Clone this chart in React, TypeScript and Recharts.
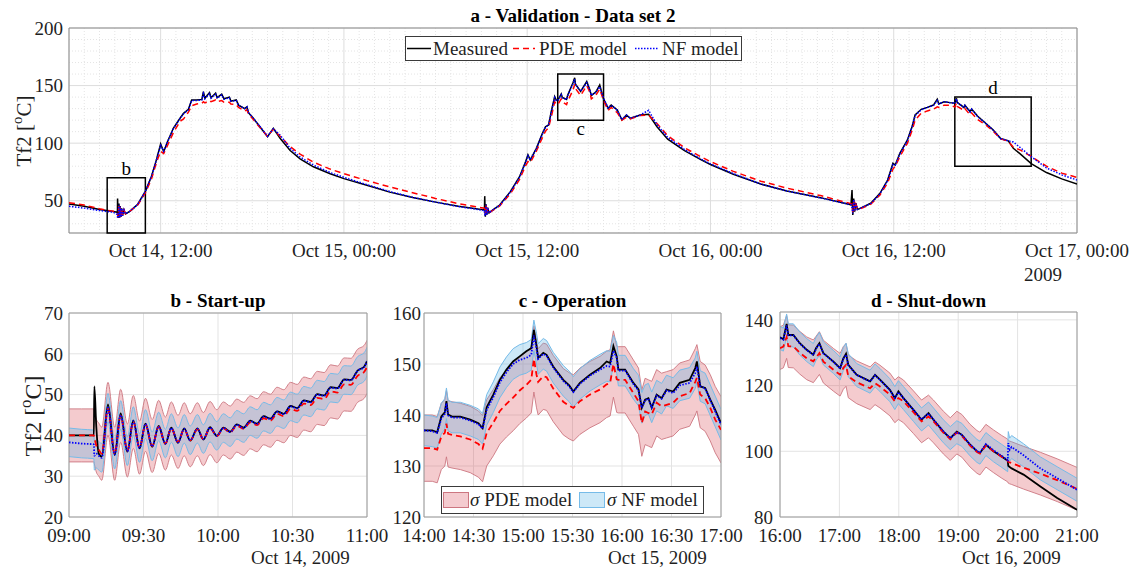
import React from "react";
import { Area, CartesianGrid, ComposedChart, Line, ReferenceArea, XAxis, YAxis } from "recharts";

const serif = "'Times New Roman', 'Liberation Serif', Tinos, 'DejaVu Serif', serif";

// ---- panel a: hours since Oct 14 00:00 ----
const topHours = [6, 7, 8, 8.9, 9.17, 9.18, 9.22, 9.27, 9.31, 9.35, 9.4, 9.45, 9.5, 9.6, 9.7, 10, 10.5, 11, 11.4, 11.75, 12, 12.2, 12.45, 12.83, 13.27, 13.5, 13.82, 14.03, 14.36, 14.7, 14.8, 14.9, 15.2, 15.3, 15.6, 15.7, 16, 16.15, 16.5, 16.6, 16.95, 17.1, 17.5, 17.65, 17.75, 18.07, 18.5, 19, 19.38, 19.82, 20.48, 21.13, 22, 23.1, 24, 25.5, 27, 28.5, 30, 31.5, 33.2, 33.22, 33.26, 33.31, 33.36, 33.42, 33.5, 33.8, 34.2, 34.9, 35.5, 35.9, 36.05, 36.2, 36.6, 37, 37.2, 37.4, 37.6, 37.8, 37.9, 38, 38.23, 38.3, 38.58, 38.65, 39, 39.11, 39.16, 39.5, 39.9, 40.1, 40.2, 40.5, 40.75, 41, 41.3, 41.5, 41.9, 42.2, 42.5, 42.75, 43.4, 43.95, 44.5, 45.2, 46.3, 47.4, 48, 49.5, 51.3, 53, 55.2, 57.2, 57.27, 57.32, 57.38, 57.44, 57.52, 57.62, 57.8, 58.5, 59.1, 59.6, 59.95, 60.1, 60.4, 60.9, 61.2, 61.4, 61.8, 62.2, 62.6, 62.85, 62.95, 63.3, 63.7, 64, 64.11, 64.15, 64.6, 64.66, 65, 65.1, 65.5, 66, 66.5, 67, 67.5, 67.83, 68.3, 69, 70, 71, 72];
const topMeasured = [47.2, 45.3, 42.5, 40.6, 40, 52, 35, 47.5, 35.2, 45.4, 36, 43.5, 37, 42, 38.5, 41, 47, 58.2, 71, 86.8, 99.3, 92.6, 101.3, 112.9, 121.6, 125.9, 129.4, 137.5, 137.5, 138, 144.7, 139, 144, 139.5, 143.5, 139.5, 142.5, 138.5, 140, 136.5, 137.5, 133, 130, 131.5, 126.5, 121.6, 114.3, 105.6, 112.9, 104.2, 93.6, 86.4, 79.5, 73.5, 69.2, 63.5, 57.5, 52.8, 48.8, 45.2, 42, 54, 36.2, 47, 38, 44, 39.5, 42.5, 46.3, 57.9, 70.9, 84, 89.9, 85.4, 95.5, 108.5, 114.3, 115.8, 128.8, 140.4, 137.5, 137, 142.7, 139.7, 138, 141.7, 152.5, 156.7, 151.2, 145, 153.5, 146.3, 141.4, 144.5, 150.5, 138.4, 130.2, 133.1, 128.8, 120.1, 124.5, 121.6, 124.5, 125, 114.3, 103.5, 93.5, 85.5, 81.5, 73, 64.5, 58.5, 52.7, 46.5, 59.3, 37.6, 52, 40.5, 48, 42.5, 43.4, 47.8, 56.4, 68, 82.5, 81, 91.2, 102.8, 114.3, 124.5, 129.4, 131.1, 133.1, 138.1, 134, 136, 135.2, 134.7, 139, 135.4, 131, 132.9, 127.3, 129.7, 123.3, 117.5, 111.6, 104, 102, 95.5, 90.5, 82.2, 74.5, 69, 64.5];
const topPde = [48.3, 46.3, 43, 40.8, 40, 39, 35.5, 46.5, 35.5, 44.8, 36.3, 43, 37, 42, 38.5, 41, 46.3, 56.8, 69, 84, 93, 91, 98, 109, 119, 121, 127, 132.5, 134, 134.5, 136, 135, 137, 136, 137.5, 136, 137, 135.5, 135.5, 134, 133.5, 131, 128, 129, 125.5, 120.5, 113.5, 106, 112, 106, 97, 90.5, 83.5, 77.5, 73.5, 67.5, 62, 57, 52, 47.5, 43.5, 43, 38, 46, 38.5, 43.5, 39.5, 42, 45.5, 56, 68.5, 80.5, 84, 83, 93, 105, 110.5, 113.5, 124, 136, 134, 133.5, 138.4, 136, 133.5, 136.5, 146, 151, 147.5, 141.4, 150, 144.3, 138.4, 141.7, 147, 137.1, 128.5, 131, 126.5, 120, 122.5, 121, 124, 124.5, 117, 106.5, 96, 88, 84, 75.5, 67, 61, 54.5, 47.5, 47, 40, 50, 41.5, 47, 43, 43, 47, 55, 65.5, 77.5, 80, 88.3, 100, 111, 120, 126, 128, 129.5, 131.5, 131, 133, 133, 131.4, 135, 132, 128.5, 130, 124.5, 126.3, 120.5, 116, 110.6, 103.7, 101.7, 96.5, 94, 88.5, 80, 74, 70.3];
const topNf = [45.2, 43.6, 41.5, 40, 38, 35, 35, 46.5, 35.2, 45, 36, 43.5, 37, 42, 38.5, 41, 46.8, 58, 71, 86.5, 98, 93, 101, 112.5, 121.3, 125.5, 129, 137, 137, 137.5, 143, 138.5, 143, 139, 142.5, 139, 142, 138, 139.5, 136.5, 137, 133, 130, 131.5, 126.5, 121.6, 114.5, 106, 112.5, 107, 95.5, 88, 81, 74.5, 70.3, 64, 58, 53, 48.8, 45, 41.5, 38, 37, 46.5, 38, 44, 39.5, 42.5, 46, 57.5, 70.5, 83.5, 89, 85.5, 95, 108, 114, 115.5, 128, 139.5, 137, 137, 142, 139.5, 137.8, 141, 151.5, 155.5, 151, 145, 152.5, 146, 141.5, 144.3, 149, 139, 130.5, 133, 128.5, 120.5, 124.5, 121.6, 124.5, 128.5, 116, 105, 94.5, 86, 82, 73.5, 64.5, 58.5, 52.5, 46.5, 44, 39, 51, 41, 47.5, 42.5, 43.4, 47.6, 56, 67.5, 81.5, 81, 90.5, 102.5, 114, 124, 129, 131, 132.8, 137, 134, 136, 135, 134.5, 138.5, 135.4, 131, 132.7, 127, 129.5, 123, 117.5, 111.5, 104, 102, 101, 96, 88.3, 78.5, 72.5, 68];
const topXTicks = [12, 24, 36, 48, 60, 72];
const topXLabels = ["Oct 14, 12:00", "Oct 15, 00:00", "Oct 15, 12:00", "Oct 16, 00:00", "Oct 16, 12:00", "Oct 17, 00:00"];
const topYTicks = [50, 100, 150, 200];

// ---- panel b: minutes after 09:00, Oct 14 ----
const bMinutes = [0, 5, 10, 10.2, 11, 12, 13.2, 15.7, 18.4, 20.8, 23.5, 25.9, 28.4, 30.8, 33.5, 36.1, 38.8, 41.2, 43.9, 46.4, 48.8, 51.7, 54.1, 56.8, 59.5, 62.2, 64.9, 67.6, 70.3, 73, 75.7, 78.4, 81.1, 83.8, 86.5, 89.2, 91.9, 94.6, 97.3, 100, 102.7, 105.4, 108.1, 110.8, 113.5, 116.2, 118.9, 120];
const bMeasured = [40, 40, 40, 52, 42, 35.5, 34.8, 47.6, 35.2, 45.4, 36, 43.7, 36.8, 42.9, 37.2, 42.3, 37.9, 41.9, 38.2, 41.7, 38.7, 41.7, 39, 42, 39.9, 41.9, 40.9, 42.7, 41.9, 43.6, 42.9, 44.7, 44.1, 45.9, 45.3, 47.2, 46.7, 48.6, 48.2, 50.1, 49.8, 51.8, 51.6, 53.7, 53.6, 55.9, 56.9, 58.2];
const bPde = [40, 40, 40, 39.5, 37.5, 36.5, 35.5, 46.5, 35.5, 44.8, 36.3, 43.3, 37, 42.6, 37.4, 42.1, 38, 41.7, 38.4, 41.5, 38.8, 41.5, 39.1, 41.8, 39.8, 41.7, 40.7, 42.4, 41.6, 43.2, 42.5, 44.2, 43.6, 45.3, 44.7, 46.5, 46, 47.8, 47.4, 49.2, 48.9, 50.8, 50.5, 52.5, 52.4, 54.6, 55.6, 56.8];
const bNf = [38.3, 38, 37.8, 35, 35.5, 35, 34.5, 46.8, 35.3, 45, 36.1, 43.5, 36.9, 42.8, 37.3, 42.2, 38, 41.8, 38.3, 41.6, 38.8, 41.6, 39.1, 41.9, 39.9, 41.8, 40.8, 42.6, 41.8, 43.5, 42.8, 44.6, 44, 45.8, 45.2, 47.1, 46.6, 48.5, 48.1, 50, 49.7, 51.7, 51.5, 53.6, 53.5, 55.8, 56.8, 58.1];
const bSigma = { pde: 6.5, nf: 3.5 };
const bXTicks = [0, 30, 60, 90, 120];
const bXLabels = ["09:00", "09:30", "10:00", "10:30", "11:00"];
const bYTicks = [20, 30, 40, 50, 60, 70];

// ---- panel c: minutes after 14:00, Oct 15 ----
const cMinutes = [0, 5, 8, 10.5, 12.6, 13.6, 14.6, 17, 22, 28, 33, 35.5, 38, 42, 46, 50, 54, 58, 62, 65, 66.6, 68.2, 69.2, 72.3, 74.3, 78.3, 84.4, 88, 90.5, 94.5, 100.6, 106.7, 110.7, 112.8, 114.8, 116.8, 117.8, 121.9, 126.9, 130, 132, 134, 136, 138, 141, 144, 147, 151, 155, 161, 164.4, 165.4, 167.4, 170.4, 173.5, 176.5, 180];
const cMeasured = [137, 137, 136.6, 139.7, 140.5, 142.7, 140.1, 139.7, 139.7, 139.1, 138.4, 137.4, 141.5, 144, 146.9, 148.9, 150.5, 151.5, 152.5, 153.1, 156.7, 153.5, 151.2, 152.2, 151.8, 149.5, 146.9, 145.8, 144.6, 146.3, 147.9, 149.2, 150.5, 150.2, 153.5, 151.5, 148.9, 148.9, 146.3, 145, 141.4, 143, 143.3, 141.4, 144, 143.3, 145, 144.6, 146.3, 146.9, 149.2, 150.5, 145.6, 145.3, 143, 141, 138.4];
const cPde = [133.5, 133.5, 133.2, 135.8, 136.5, 138.3, 136.3, 136.1, 135.8, 135.2, 134.3, 133.4, 136.5, 138.5, 140.8, 142.2, 143.4, 144.8, 145.9, 146.9, 151, 147.9, 146.5, 147.6, 147.4, 145.2, 142.6, 141.8, 141.4, 142.7, 144, 145, 146, 146.3, 150, 147, 146.9, 146.9, 144.3, 142.7, 138.4, 140.7, 140.4, 140.1, 142.4, 141.7, 142, 142.4, 143.7, 144.3, 146.5, 147.3, 144, 143.3, 141.4, 139.1, 137.1];
const cNf = [137, 136.8, 136.5, 139.3, 140.2, 142.3, 139.9, 139.5, 139.5, 138.9, 138.2, 137.3, 141, 143.5, 146.4, 148.4, 150, 150.8, 151.2, 151.8, 155.6, 153, 151, 152, 151.6, 149.3, 146.7, 145.6, 144.5, 146.1, 147.7, 148.9, 149.6, 149.5, 152.6, 151.2, 148.7, 148.7, 146.1, 144.8, 141.4, 142.9, 143.2, 141.5, 143.8, 143.2, 144.8, 144.3, 145.8, 146.3, 148.2, 149.5, 145.7, 145.2, 142.9, 140.7, 138.1];
const cSigma = { pde: 6.5, nf: 3 };
const cXTicks = [0, 30, 60, 90, 120, 150, 180];
const cXLabels = ["14:00", "14:30", "15:00", "15:30", "16:00", "16:30", "17:00"];
const cYTicks = [120, 130, 140, 150, 160];

// ---- panel d: minutes after 16:00, Oct 16 ----
const dMinutes = [0, 3.4, 6.7, 8.4, 13.5, 20, 27, 33.7, 36.4, 39.8, 43.8, 54, 60.7, 64, 66.7, 69, 77.5, 91, 96, 101, 111, 116, 119.6, 124.7, 134.8, 143, 150, 155, 165, 172, 178.6, 183.7, 192, 199, 202, 208, 215.7, 224, 230, 230.6, 232, 234, 246, 263, 280, 300];
const dMeasured = [134.7, 134.1, 138.8, 135.4, 135.4, 132.9, 130.9, 129.4, 131.4, 132.9, 129.9, 127.3, 125.3, 128.3, 129.7, 126.3, 123.3, 121.3, 123.3, 121.8, 118.7, 116.2, 118.2, 116.2, 112.6, 109.6, 111.6, 109.6, 106, 104, 106, 105, 102, 100, 99.5, 102, 100, 98.4, 97.1, 95.6, 95.2, 94.8, 92.9, 89.3, 85.8, 82.2];
const dPde = [131.4, 131.9, 134.8, 132, 131.9, 130, 128.3, 127.4, 128.5, 129.9, 127.3, 124.8, 123.3, 125.4, 126.3, 122.8, 121, 119.2, 120.7, 119.7, 117.3, 115.2, 116.2, 115.2, 111.9, 109.1, 110.6, 109.1, 105.7, 103.7, 105.7, 104.7, 101.7, 99.8, 99.3, 101.7, 100, 98.3, 97.2, 96.8, 96.6, 96.4, 95, 93.2, 91.2, 88.6];
const dNf = [134.5, 134, 138.3, 135.3, 135.3, 132.8, 130.8, 129.3, 131.2, 132.7, 129.8, 127.2, 125.2, 128.1, 129.4, 126.2, 123.2, 121.2, 123.1, 121.7, 118.6, 116.2, 118, 116.2, 112.6, 109.7, 111.5, 109.7, 106.1, 104, 105.8, 105, 102.1, 100.1, 99.6, 102.2, 100.3, 98.6, 97.3, 102.5, 100.5, 101.3, 98.8, 94.8, 91.8, 88.3];
const dSigma = { pde: 6.5, nf: 3.5 };
const dXTicks = [0, 60, 120, 180, 240, 300];
const dXLabels = ["16:00", "17:00", "18:00", "19:00", "20:00", "21:00"];
const dYTicks = [80, 100, 120, 140];

const topRows = topHours.map((t, i) => ({ t, m: topMeasured[i], p: topPde[i], n: topNf[i] }));

function bandRows(ts: number[], m: number[], p: number[], n: number[], s: { pde: number; nf: number }) {
  return ts.map((t, i) => ({
    t,
    m: m[i],
    p: p[i],
    n: n[i],
    pBand: [p[i] - s.pde, p[i] + s.pde],
    nBand: [n[i] - s.nf, n[i] + s.nf],
  }));
}

const bRows = bandRows(bMinutes, bMeasured, bPde, bNf, bSigma);
const cRows = bandRows(cMinutes, cMeasured, cPde, cNf, cSigma);
const dRows = bandRows(dMinutes, dMeasured, dPde, dNf, dSigma);

const tickStyle = { fontSize: 19, fill: "#1f1f1f", fontFamily: serif };
const minorX: number[] = [];
for (let h = 7; h < 72; h++) if (h % 12 !== 0) minorX.push(h);
const minorY: number[] = [];
for (let v = 30; v < 200; v += 10) if (v % 50 !== 0) minorY.push(v);

const pdeFill = "#d9545e";
const pdeEdge = "#cc7680";
const nfFill = "#5ab4e5";
const nfEdge = "#76bbe8";

function label(ticks: number[], labels: string[]) {
  return (v: number) => {
    const i = ticks.indexOf(v);
    return i >= 0 ? labels[i] : "";
  };
}

function TopPanel() {
  return (
    <ComposedChart width={1134} height={290} data={topRows} margin={{ top: 28, right: 57, bottom: 0, left: 0 }}>
      <CartesianGrid verticalValues={minorX} horizontalValues={minorY} stroke="#e4e4e4" strokeDasharray="1 2" />
      <CartesianGrid stroke="#dddddd" />
      <XAxis type="number" dataKey="t" domain={[6, 72]} ticks={topXTicks} interval={0} tickFormatter={label(topXTicks, topXLabels)} height={57} axisLine={false} tickLine={false} tickSize={5} tickMargin={6} tick={tickStyle} allowDataOverflow />
      <YAxis type="number" domain={[22, 200]} ticks={topYTicks} interval={0} width={69} axisLine={false} tickLine={false} tickSize={3} tickMargin={3} tick={tickStyle} allowDataOverflow />
      <ReferenceArea x1={6} x2={72} y1={22} y2={200} fill="none" stroke="#8c8c8c" />
      <Line type="linear" dataKey="m" stroke="#000" strokeWidth={1.5} dot={false} isAnimationActive={false} />
      <Line type="linear" dataKey="p" stroke="#ff0000" strokeWidth={1.5} strokeDasharray="6 4" dot={false} isAnimationActive={false} />
      <Line type="linear" dataKey="n" stroke="#0000ff" strokeWidth={1.5} strokeDasharray="1.5 1.5" dot={false} isAnimationActive={false} />
      <ReferenceArea x1={8.5} x2={11} y1={22} y2={70} fill="none" stroke="#000" strokeWidth={1.5} label={{ value: "b", position: "top", offset: 3, fontSize: 19, fill: "#000", fontFamily: serif }} />
      <ReferenceArea x1={38} x2={41} y1={120} y2={160} fill="none" stroke="#000" strokeWidth={1.5} label={{ value: "c", position: "bottom", offset: 1, fontSize: 19, fill: "#000", fontFamily: serif }} />
      <ReferenceArea x1={64} x2={69} y1={80} y2={140} fill="none" stroke="#000" strokeWidth={1.5} label={{ value: "d", position: "top", offset: 3, fontSize: 19, fill: "#000", fontFamily: serif }} />
    </ComposedChart>
  );
}

type PanelProps = {
  rows: ReturnType<typeof bandRows>;
  width: number;
  top: number;
  right: number;
  yWidth: number;
  yGap: number;
  xDomain: [number, number];
  yDomain: [number, number];
  xTicks: number[];
  xLabels: string[];
  yTicks: number[];
  curve: "linear" | "monotone";
};

function ZoomPanel({ rows, width, top, right, yWidth, yGap, xDomain, yDomain, xTicks, xLabels, yTicks, curve }: PanelProps) {
  return (
    <ComposedChart width={width} height={300} data={rows} margin={{ top, right, bottom: 0, left: 0 }}>
      <CartesianGrid stroke="#e3e3e3" />
      <XAxis type="number" dataKey="t" domain={xDomain} ticks={xTicks} interval={0} tickFormatter={label(xTicks, xLabels)} height={63} axisLine={false} tickLine={false} tickSize={6} tickMargin={6} tick={tickStyle} allowDataOverflow />
      <YAxis type="number" domain={yDomain} ticks={yTicks} interval={0} width={yWidth} axisLine={false} tickLine={false} tickSize={1} tickMargin={yGap} tick={tickStyle} allowDataOverflow />
      <Area type={curve} dataKey="pBand" stroke={pdeEdge} strokeWidth={0.9} fill={pdeFill} fillOpacity={0.3} isAnimationActive={false} />
      <Area type={curve} dataKey="nBand" stroke={nfEdge} strokeWidth={1} fill={nfFill} fillOpacity={0.3} isAnimationActive={false} />
      <Line type={curve} dataKey="m" stroke="#000" strokeWidth={1.8} dot={false} isAnimationActive={false} />
      <Line type={curve} dataKey="p" stroke="#ff0000" strokeWidth={1.8} strokeDasharray="6 4" dot={false} isAnimationActive={false} />
      <Line type={curve} dataKey="n" stroke="#0000ff" strokeWidth={1.8} strokeDasharray="1.5 1.5" dot={false} isAnimationActive={false} />
      <ReferenceArea x1={xDomain[0]} x2={xDomain[1]} y1={yDomain[0]} y2={yDomain[1]} fill="none" stroke="#9a9a9a" />
    </ComposedChart>
  );
}

function YLabel({ x, y, size }: { x: number; y: number; size: number }) {
  return (
    <text transform={`translate(${x},${y}) rotate(-90)`} textAnchor="middle" dominantBaseline="central" fontSize={size} fill="#1f1f1f" style={{ fontFamily: serif }}>
      Tf2 [<tspan fontSize={size * 0.7} dy={-size * 0.35}>o</tspan>
      <tspan dy={size * 0.35}>C]</tspan>
    </text>
  );
}

const txt = { fontFamily: serif };

function Overlay() {
  return (
    <svg width={1134} height={568} style={{ position: "absolute", left: 0, top: 0, pointerEvents: "none", fontFamily: serif }}>
      <text x={573} y={22} textAnchor="middle" fontSize={19} fontWeight="bold" fill="#000" style={txt}>a - Validation - Data set 2</text>
      <text x={218} y={307} textAnchor="middle" fontSize={19} fontWeight="bold" fill="#000" style={txt}>b - Start-up</text>
      <text x={572.5} y={307} textAnchor="middle" fontSize={19} fontWeight="bold" fill="#000" style={txt}>c - Operation</text>
      <text x={928.5} y={307} textAnchor="middle" fontSize={19} fontWeight="bold" fill="#000" style={txt}>d - Shut-down</text>
      <YLabel x={24} y={131} size={21} />
      <YLabel x={33} y={416} size={24} />
      <text x={1024} y={281} fontSize={19} fill="#1f1f1f" style={txt}>2009</text>
      <text x={251} y={564} fontSize={19} fill="#1f1f1f" style={txt}>Oct 14, 2009</text>
      <text x={608} y={564} fontSize={19} fill="#1f1f1f" style={txt}>Oct 15, 2009</text>
      <text x={962} y={564} fontSize={19} fill="#1f1f1f" style={txt}>Oct 16, 2009</text>

      <rect x={405.5} y={36.5} width={336} height={24} fill="#fff" stroke="#3a3a3a" />
      <line x1={407} x2={431} y1={48.5} y2={48.5} stroke="#000" strokeWidth={1.5} />
      <text x={433} y={55} fontSize={19} fill="#1f1f1f" style={txt}>Measured</text>
      <line x1={513} x2={535} y1={48.5} y2={48.5} stroke="#ff0000" strokeWidth={1.5} strokeDasharray="6 4" />
      <text x={539} y={55} fontSize={19} fill="#1f1f1f" style={txt}>PDE model</text>
      <line x1={635} x2={659} y1={48.5} y2={48.5} stroke="#0000ff" strokeWidth={1.5} strokeDasharray="1.5 1.5" />
      <text x={662} y={55} fontSize={19} fill="#1f1f1f" style={txt}>NF model</text>

      <rect x={441.5} y={486.5} width={262} height={27} fill="#fff" stroke="#3a3a3a" />
      <rect x={443.5} y={492.5} width={25} height={15} fill="#f4cbcf" stroke={pdeEdge} />
      <text x={470} y={506} fontSize={19} fill="#1f1f1f" style={txt}><tspan fontStyle="italic">σ</tspan> PDE model</text>
      <rect x={579.5} y={492.5} width={25} height={15} fill="#cde8f7" stroke={nfEdge} />
      <text x={607} y={506} fontSize={19} fill="#1f1f1f" style={txt}><tspan fontStyle="italic">σ</tspan> NF model</text>
    </svg>
  );
}

export default function App() {
  return (
    <div style={{ position: "absolute", left: 0, top: 0, width: 1134, height: 568, background: "#fff", fontFamily: serif }}>
      <div style={{ position: "absolute", left: 0, top: 0 }}>
        <TopPanel />
      </div>
      <div style={{ position: "absolute", left: 0, top: 280 }}>
        <ZoomPanel rows={bRows} width={400} top={33} right={33} yWidth={69} yGap={5} xDomain={[0, 120]} yDomain={[20, 70]} xTicks={bXTicks} xLabels={bXLabels} yTicks={bYTicks} curve="monotone" />
      </div>
      <div style={{ position: "absolute", left: 380, top: 280 }}>
        <ZoomPanel rows={cRows} width={380} top={33} right={39} yWidth={44} yGap={2} xDomain={[0, 180]} yDomain={[120, 160]} xTicks={cXTicks} xLabels={cXLabels} yTicks={cYTicks} curve="linear" />
      </div>
      <div style={{ position: "absolute", left: 740, top: 280 }}>
        <ZoomPanel rows={dRows} width={394} top={32} right={57} yWidth={40} yGap={6} xDomain={[0, 300]} yDomain={[80, 142.4]} xTicks={dXTicks} xLabels={dXLabels} yTicks={dYTicks} curve="linear" />
      </div>
      <Overlay />
    </div>
  );
}
